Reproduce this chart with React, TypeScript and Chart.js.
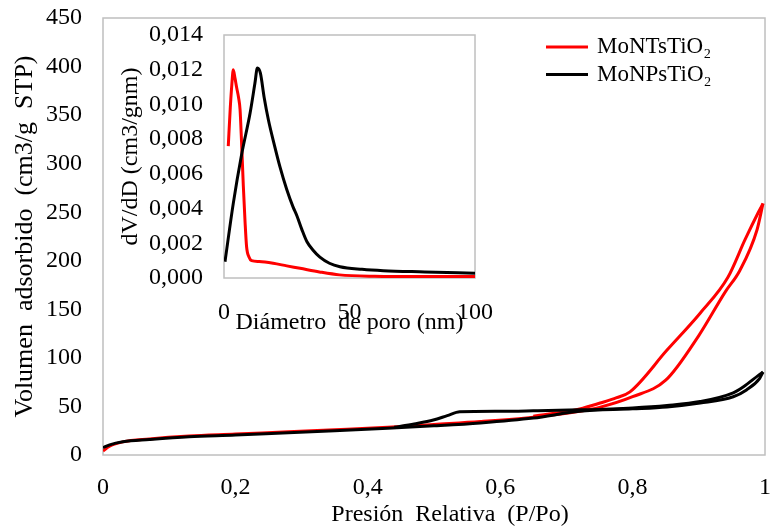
import { useEffect, useRef } from 'react';
import { Chart, registerables } from 'chart.js';

Chart.register(...registerables);

const FONT = "'Liberation Serif', 'Times New Roman', serif";

// ---------- series names / colours ----------
const seriesNames = ['MoNTsTiO₂', 'MoNPsTiO₂'];
const seriesColors = ['#FF0000', '#000000'];

// ---------- main chart: N2 isotherms ----------
// MoNTsTiO2 adsorption branch
const ntsAdsP = [0, 0.01, 0.03, 0.07, 0.13, 0.2, 0.28, 0.35, 0.43, 0.5, 0.57, 0.65, 0.72, 0.75, 0.8, 0.85, 0.9, 0.94, 0.962, 0.988, 0.997];
const ntsAdsV = [4, 9, 13.5, 16.5, 19.5, 21.5, 24, 26, 28.5, 31.5, 34.5, 39, 45, 49, 60, 77, 123, 168, 190, 232, 259];
// MoNTsTiO2 desorption branch
const ntsDesP = [0.65, 0.72, 0.751, 0.776, 0.796, 0.852, 0.902, 0.944, 0.97, 0.99, 0.997];
const ntsDesV = [40, 47.5, 53.5, 59, 65, 108, 146, 183, 222, 250, 259];
// MoNPsTiO2 adsorption branch
const npsAdsP = [0, 0.01, 0.03, 0.07, 0.13, 0.2, 0.28, 0.35, 0.43, 0.5, 0.57, 0.65, 0.72, 0.8, 0.852, 0.902, 0.952, 0.972, 0.992, 0.997];
const npsAdsV = [7.5, 10.5, 13.7, 16, 18.8, 20.5, 23, 25, 27.5, 30, 33, 38, 45, 47.5, 49.5, 53.5, 60, 67, 79, 85.5];
// MoNPsTiO2 desorption branch
const npsDesP = [0.44, 0.47, 0.499, 0.52, 0.539, 0.6, 0.65, 0.72, 0.8, 0.852, 0.902, 0.952, 0.967, 0.99, 0.997];
const npsDesV = [28.5, 32, 36, 40.5, 44.5, 45, 45.5, 46.5, 48.5, 51, 55, 64, 70, 82, 85.5];

// ---------- inset: pore size distribution ----------
const ntsPoreD = [1.7, 2.5, 3.1, 3.7, 4.4, 5.0, 5.8, 6.4, 7.0, 7.7, 8.4, 9.0, 10, 11, 14, 19.6, 25, 30.3, 38, 46, 60, 80, 100];
const ntsPoreV = [0.0076, 0.0098, 0.0111, 0.012, 0.0115, 0.011, 0.0104, 0.0097, 0.0078, 0.0053, 0.0032, 0.0018, 0.0012, 0.001, 0.00095, 0.00085, 0.0007, 0.00056, 0.00035, 0.00018, 0.0001, 0.00008, 0.00008];
const npsPoreD = [0.4, 3.7, 7, 10.4, 12.3, 13.3, 14.5, 16, 17.7, 20, 22.3, 25, 27.5, 29, 31, 33, 35.5, 38.2, 42, 46.2, 55, 63.5, 80, 100];
const npsPoreV = [0.00094, 0.0043, 0.0071, 0.0095, 0.0112, 0.0121, 0.0118, 0.0104, 0.0091, 0.0077, 0.0064, 0.0051, 0.0041, 0.0036, 0.0028, 0.0021, 0.0016, 0.0012, 0.00085, 0.00065, 0.0005, 0.00042, 0.00035, 0.00027];

// ---------- axis titles ----------
const mainXTitle = 'Presión  Relativa  (P/Po)';
const mainYTitle = 'Volumen  adsorbido  (cm3/g  STP)';
const insetXTitle = 'Diámetro  de poro (nm)';
const insetYTitle = 'dV/dD (cm3/gnm)';

const pts = (xs: number[], ys: number[]) => xs.map((x, i) => ({ x, y: ys[i] }));
const comma = (v: number, d: number) => (Math.round(v * 10 ** d) / 10 ** d).toString().replace('.', ',');

const noPad = (s: any) => {
  s.paddingLeft = 0;
  s.paddingRight = 0;
  s.paddingTop = 0;
  s.paddingBottom = 0;
};

const framePlugin = {
  id: 'frame',
  beforeDatasetsDraw(chart: any) {
    const { ctx, chartArea: a } = chart;
    ctx.save();
    ctx.strokeStyle = '#BFBFBF';
    ctx.lineWidth = 1.5;
    ctx.strokeRect(a.left, a.top, a.right - a.left, a.bottom - a.top);
    ctx.restore();
  },
};

const legendPlugin = {
  id: 'insideLegend',
  afterDraw(chart: any) {
    const { ctx, chartArea: a } = chart;
    ctx.save();
    ctx.font = `23px ${FONT}`;
    ctx.textBaseline = 'middle';
    ctx.textAlign = 'left';
    seriesNames.forEach((name, i) => {
      const y = a.top + 29 + i * 27.5;
      ctx.strokeStyle = seriesColors[i];
      ctx.lineWidth = 3;
      ctx.beginPath();
      ctx.moveTo(a.right - 219, y);
      ctx.lineTo(a.right - 177, y);
      ctx.stroke();
      ctx.fillStyle = '#000';
      ctx.fillText(name, a.right - 168, y);
    });
    ctx.restore();
  },
};

const xTitlePlugin = {
  id: 'mainXTitle',
  afterDraw(chart: any) {
    const { ctx, chartArea: a } = chart;
    ctx.save();
    ctx.font = `24px ${FONT}`;
    ctx.fillStyle = '#000';
    ctx.textAlign = 'center';
    ctx.textBaseline = 'middle';
    ctx.fillText(mainXTitle, (a.left + a.right) / 2 + 16, a.bottom + 60);
    ctx.restore();
  },
};

const lineDs = (label: string, data: any[], color: string) => ({
  label,
  data,
  borderColor: color,
  backgroundColor: color,
  borderWidth: 3,
  pointRadius: 0,
  showLine: true,
  fill: false,
  cubicInterpolationMode: 'monotone' as const,
});

export default function App() {
  const mainRef = useRef<HTMLCanvasElement>(null);
  const insetRef = useRef<HTMLCanvasElement>(null);

  useEffect(() => {
    document.body.style.margin = '0';
    const tickFont = { family: FONT, size: 24 };

    const main = new Chart(mainRef.current!, {
      type: 'scatter',
      data: {
        datasets: [
          lineDs(seriesNames[1], pts(npsAdsP, npsAdsV), seriesColors[1]),
          lineDs(seriesNames[1], pts(npsDesP, npsDesV), seriesColors[1]),
          lineDs(seriesNames[0], pts(ntsAdsP, ntsAdsV), seriesColors[0]),
          lineDs(seriesNames[0], pts(ntsDesP, ntsDesV), seriesColors[0]),
        ],
      },
      options: {
        animation: false,
        responsive: false,
        layout: { padding: { top: 18, right: 7, left: 0, bottom: 0 } },
        plugins: { legend: { display: false }, tooltip: { enabled: false } },
        scales: {
          x: {
            type: 'linear',
            min: 0,
            max: 1,
            grid: { display: false, drawTicks: false },
            border: { display: false },
            ticks: {
              stepSize: 0.2,
              padding: 18,
              color: '#000',
              font: tickFont,
              maxRotation: 0,
              callback: (v: any) => comma(Number(v), 1),
            },
            afterFit: (s: any) => { s.height = 72; noPad(s); },
          },
          y: {
            type: 'linear',
            min: 0,
            max: 450,
            grid: { display: false, drawTicks: false },
            border: { display: false },
            ticks: { stepSize: 50, padding: 21, color: '#000', font: tickFont },
            title: {
              display: true,
              text: mainYTitle,
              color: '#000',
              font: { family: FONT, size: 26 },
              padding: { top: 10, bottom: 0 },
            },
            afterFit: (s: any) => { s.width = 103; noPad(s); },
          },
        },
      },
      plugins: [framePlugin, legendPlugin, xTitlePlugin],
    });

    const inset = new Chart(insetRef.current!, {
      type: 'scatter',
      data: {
        datasets: [
          lineDs(seriesNames[1], pts(npsPoreD, npsPoreV), seriesColors[1]),
          lineDs(seriesNames[0], pts(ntsPoreD, ntsPoreV), seriesColors[0]),
        ],
      },
      options: {
        animation: false,
        responsive: false,
        layout: { padding: { top: 20, right: 20, left: 0, bottom: 0 } },
        plugins: { legend: { display: false }, tooltip: { enabled: false } },
        scales: {
          x: {
            type: 'linear',
            min: 0,
            max: 100,
            grid: { display: false, drawTicks: false },
            border: { display: false },
            ticks: { stepSize: 50, padding: 20, color: '#000', font: tickFont, maxRotation: 0 },
            title: {
              display: true,
              text: insetXTitle,
              color: '#000',
              font: { family: FONT, size: 24 },
              padding: { top: 0, bottom: 13 },
            },
            afterFit: (s: any) => { s.height = 72; noPad(s); },
          },
          y: {
            type: 'linear',
            min: 0,
            max: 0.014,
            grid: { display: false, drawTicks: false },
            border: { display: false },
            ticks: {
              stepSize: 0.002,
              padding: 21,
              color: '#000',
              font: tickFont,
              callback: (v: any) => Number(v).toFixed(3).replace('.', ','),
            },
            title: {
              display: true,
              text: insetYTitle,
              color: '#000',
              font: { family: FONT, size: 24 },
              padding: { top: 6, bottom: 0 },
            },
            afterFit: (s: any) => { s.width = 114; noPad(s); },
          },
        },
      },
      plugins: [framePlugin],
    });

    return () => {
      main.destroy();
      inset.destroy();
    };
  }, []);

  return (
    <div style={{ position: 'relative', width: 772, height: 527, background: '#fff' }}>
      <canvas ref={mainRef} width={772} height={527} style={{ position: 'absolute', left: 0, top: 0 }} />
      <canvas
        ref={insetRef}
        width={385}
        height={335}
        style={{ position: 'absolute', left: 110, top: 15, pointerEvents: 'none' }}
      />
    </div>
  );
}
